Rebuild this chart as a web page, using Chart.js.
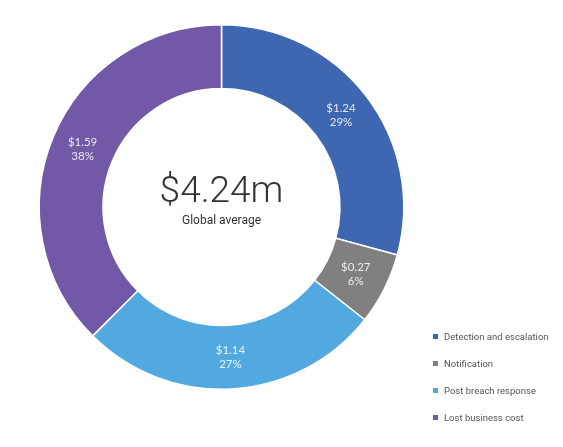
<!DOCTYPE html>
<html>
<head>
<meta charset="utf-8">
<script src="https://cdn.jsdelivr.net/npm/chart.js@4"></script>
<style>
  html, body { margin: 0; padding: 0; background: #fff; }
  #wrap { position: relative; width: 563px; height: 447px; }
  #legend { position: absolute; left: 431px; top: 331px; font-family: Roboto, sans-serif; font-size: 9.5px; color: #555; }
  #legend div { height: 27px; display: flex; align-items: flex-start; }
  #legend span.sw { display: inline-block; width: 5px; height: 5px; margin: 3px 6px 0 2px; }
</style>
</head>
<body>
<div id="wrap">
  <canvas id="donut" width="563" height="447"></canvas>
  <div id="legend"></div>
</div>
<script>
var categories = ["Detection and escalation", "Notification", "Post breach response", "Lost business cost"];
var costs = [1.24, 0.27, 1.14, 1.59];
var shares = [29, 6, 27, 38];
var colors = ["#3e66b1", "#808080", "#52a9e0", "#7159a8"];
var total = "$4.24m";
var totalLabel = "Global average";

// labels inside each slice + big number in the hole
var sliceText = {
    id: 'sliceText',
    afterDatasetsDraw(chart) {
        var ctx = chart.ctx;
        var meta = chart.getDatasetMeta(0);
        ctx.save();
        ctx.textAlign = 'center';
        ctx.textBaseline = 'middle';
        ctx.fillStyle = 'rgba(255,255,255,0.85)';
        ctx.font = '11.5px Lato, sans-serif';
        meta.data.forEach(function (arc, i) {
            var p = arc.tooltipPosition();
            ctx.fillText('$' + costs[i].toFixed(2), p.x, p.y - 7);
            ctx.fillText(shares[i] + '%', p.x, p.y + 7);
        });
        var c = meta.data[0];
        ctx.textBaseline = 'alphabetic';
        ctx.fillStyle = '#333';
        ctx.font = '300 37px Roboto, sans-serif';
        ctx.fillText(total, c.x, 202);
        ctx.font = '12px Roboto, sans-serif';
        ctx.fillText(totalLabel, c.x, 224);
        ctx.restore();
    }
};

var ctx = document.getElementById('donut').getContext('2d');
var myChart = new Chart(ctx, {
    type: 'doughnut',
    data: {
        labels: categories,
        datasets: [{
            data: costs,
            backgroundColor: colors,
            borderColor: '#ffffff',
            borderWidth: 1.5,
        }]
    },
    options: {
        responsive: false,
        animation: false,
        cutout: '65%',
        layout: { padding: { left: 38.5, right: 158.5, top: 24, bottom: 57 } },
        plugins: {
            legend: { display: false },
            tooltip: { enabled: false }
        }
    },
    plugins: [sliceText]
});

var legend = document.getElementById('legend');
categories.forEach(function (name, i) {
    var row = document.createElement('div');
    row.innerHTML = '<span class="sw" style="background:' + colors[i] + '"></span>' + name;
    legend.appendChild(row);
});
</script>
</body>
</html>
